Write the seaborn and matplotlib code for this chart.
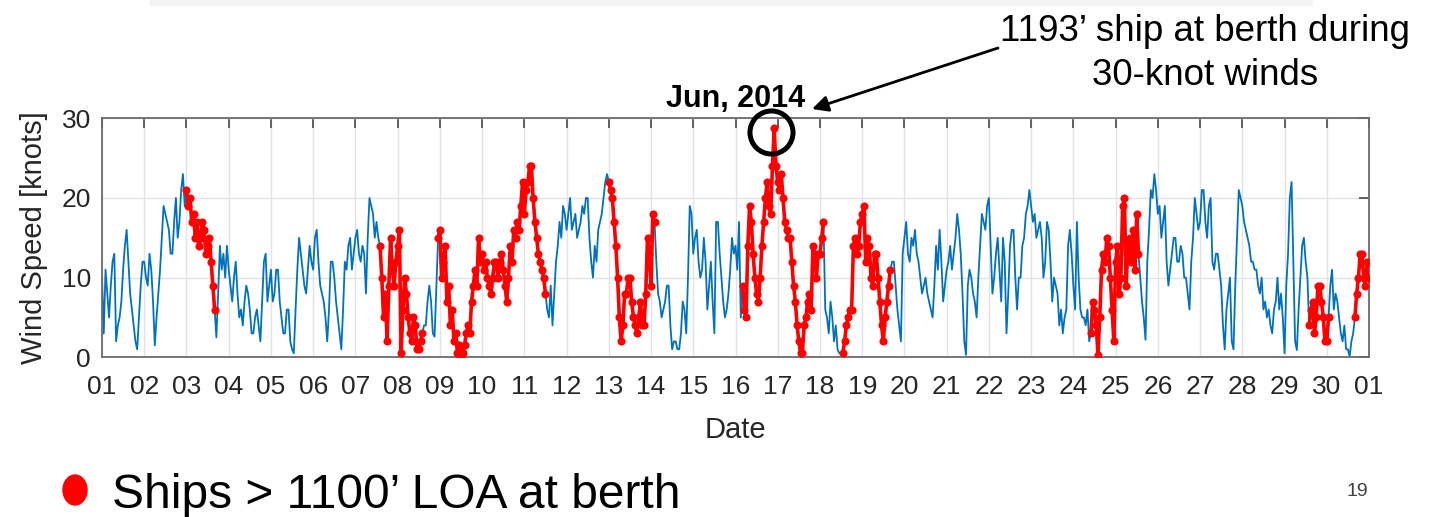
import numpy as np
import pandas as pd
import matplotlib
matplotlib.use("Agg")
import matplotlib.pyplot as plt
import seaborn as sns
from matplotlib.patches import Ellipse, Rectangle

# Hourly wind speed [knots], one list per day of June 2014
jun01 = [10, 3, 11, 8, 5, 9, 12, 13, 2, 4, 5, 7, 11, 14, 16, 12, 8, 6, 4, 2, 1, 5, 9, 12]
jun02 = [12, 10, 9, 13, 11, 7, 1.5, 5, 8, 11, 15, 19, 18, 17, 16, 13, 13, 17, 20, 15, 17, 21, 23, 19]
jun03 = [21, 19, 20, 17, 18, 15, 17, 14, 15, 17, 16, 13, 14, 15, 12, 9, 6, 2.5, 8, 14, 11, 13, 10, 14]
jun04 = [11, 9, 7, 10, 12, 8, 5, 6, 4, 7, 9, 8, 6, 3, 3, 5, 6, 4, 2, 7, 12, 13, 7, 9]
jun05 = [11, 7, 8, 11, 11, 7, 5, 3, 3, 6, 6, 2, 1, 0.5, 6, 11, 15, 13, 11, 9, 8, 11, 14, 12]
jun06 = [11, 15, 16, 12, 9, 8, 7, 5, 2, 6, 12, 12, 10, 7, 5, 3, 1, 6, 12, 11, 14, 15, 11, 13]
jun07 = [15, 16, 13, 12, 14, 13, 8, 15, 20, 19, 18, 15, 17, 15, 14, 10, 5, 8, 2, 9, 15, 11, 9, 12]
jun08 = [14, 16, 0.5, 6, 10, 8, 5, 3, 2, 5, 4, 1, 1, 2, 3, 4, 4, 7, 9, 7, 3, 2.6, 9, 15]
jun09 = [16, 10, 12, 14, 7, 9, 4, 6, 2, 3, 0.5, 1.5, 0, 0.5, 1.5, 3, 4, 3, 7, 9, 11, 9, 15, 12]
jun10 = [13, 11, 12, 10, 9, 8, 10, 12, 12, 10, 12, 13, 11, 9, 7, 10, 14, 12, 16, 15, 17, 16, 19, 22]
jun11 = [18, 21, 22, 24, 24, 20, 17, 15, 13, 12, 11, 10, 8, 6, 5, 9, 4, 8, 12, 14, 17, 15, 19, 18]
jun12 = [16, 18, 20, 16, 17, 18, 15, 16, 17, 19, 18, 20, 20, 15, 12, 10, 14, 12, 16, 17, 18, 20, 22, 23]
jun13 = [22, 21, 20, 17, 14, 10, 5, 2, 4, 8, 8, 10, 10, 7, 5, 4, 3, 5, 7, 4, 4, 8, 15, 13]
jun14 = [9, 18, 17, 12, 8, 7, 5, 6, 7, 9, 9, 4, 1, 2, 2, 1, 1, 3, 7, 6, 3, 10, 19, 18]
jun15 = [13, 15, 16, 12, 10, 11, 15, 12, 6, 9, 12, 7, 3, 17, 17, 13, 10, 7, 5, 6, 8, 11, 15, 13]
jun16 = [14, 11, 17, 5, 9, 6, 5, 14, 19, 17, 13, 10, 8, 7, 10, 14, 17, 20, 22, 19, 18, 24, 28.8, 24]
jun17 = [22, 21, 23, 20, 17, 16, 15, 15, 12, 9, 7, 4, 2, 0.5, 0.5, 4, 5, 7, 8, 6, 14, 13, 10, 13]
jun18 = [13, 15, 17, 6, 5, 3, 7, 5, 2, 4, 1, 0.5, 0.5, 0.5, 2, 4, 5, 6, 6, 14, 15, 13, 14, 17]
jun19 = [18, 19, 12, 15, 14, 10, 9, 13, 13, 10, 7, 4, 2, 5, 7, 9, 11, 12, 12, 9, 6, 4, 2, 13]
jun20 = [15, 17, 13, 12, 15, 14, 16, 13, 12, 10, 8, 9, 10, 8, 7, 6, 5, 9, 14, 11, 16, 12, 7, 9]
jun21 = [11, 12, 14, 11, 13, 15, 18, 16, 13, 8, 2, 0.3, 9, 11, 10, 8, 7, 5, 10, 14, 18, 17, 16, 19]
jun22 = [20, 14, 8, 10, 13, 15, 11, 7, 15, 12, 3, 8, 14, 16, 16, 10, 6, 10, 10, 14, 15, 18, 19, 21]
jun23 = [19, 17, 18, 15, 16, 17, 15, 10, 12, 17, 16, 12, 7, 10, 9, 8, 4, 6, 3, 5, 6, 14, 16, 13]
jun24 = [9, 6, 17, 10, 6, 5, 5, 4, 6, 2, 3, 7, 6, 4, 0.3, 5, 11, 13, 12, 15, 14, 10, 6, 2]
jun25 = [12, 14, 8, 10, 19, 20, 9, 14, 15, 12, 16, 11, 18, 13, 10, 7, 5, 2.2, 12, 16, 21, 20, 23, 21]
jun26 = [18, 19, 15, 17, 19, 12, 9, 11, 13, 15, 15, 12, 12, 14, 13, 10, 10, 8, 6, 12, 15, 20, 18, 16]
jun27 = [17, 21, 21, 17, 15, 19, 20, 12, 11, 13, 13, 11, 9, 4, 1, 6, 8, 10, 2, 1, 9, 15, 21, 20]
jun28 = [19, 17, 16, 15, 14, 12, 12, 11, 11, 9, 8, 10, 6, 7, 5, 6, 4, 3, 6, 7, 10, 6, 8, 5]
jun29 = [0.5, 9, 13, 20, 22, 12, 2, 0.9, 6, 10, 14, 15, 12, 10, 4, 6, 7, 3, 5, 9, 9, 7, 5, 2]
jun30 = [2, 5, 9, 11, 6, 8, 7, 5, 3, 2, 4, 1, 1, 0.1, 2, 3, 5, 8, 10, 13, 13, 10, 9, 12]
jul01 = [10]

# Periods (day of month) with a ship longer than 1100 ft at berth
berth_start = [2.97, 7.55, 8.95, 12.98, 16.15, 18.52, 24.40, 29.56, 30.63]
berth_end = [3.67, 8.62, 11.54, 14.10, 18.09, 19.70, 25.57, 30.06, 31.01]

day_ticks = list(range(1, 32))
day_labels = [f"{d:02d}" for d in range(1, 31)] + ["01"]

# The highlighted gust: 1193 ft ship at berth
gust_day, gust_speed = 16.85, 28.3

days = [jun01, jun02, jun03, jun04, jun05, jun06, jun07, jun08, jun09, jun10,
        jun11, jun12, jun13, jun14, jun15, jun16, jun17, jun18, jun19, jun20,
        jun21, jun22, jun23, jun24, jun25, jun26, jun27, jun28, jun29, jun30,
        jul01]
wind = np.concatenate([np.asarray(d, float) for d in days])
t = 1 + np.arange(len(wind)) / 24.0

df = pd.DataFrame({"day": t, "wind": wind})
df["period"] = -1
for i, (s, e) in enumerate(zip(berth_start, berth_end)):
    df.loc[(df.day >= s) & (df.day <= e), "period"] = i
berth = df[df.period >= 0]

sns.set_style("white")
plt.rcParams["font.family"] = ["Liberation Sans", "DejaVu Sans"]

W, H = 1436, 517
fig = plt.figure(figsize=(W / 100, H / 100), dpi=100)
ax = fig.add_axes([102 / W, 1 - 357.3 / H, (1369 - 102) / W, (357.3 - 118.3) / H])

BLUE = "#0072BD"
RED = "#FF0000"
sns.lineplot(data=df, x="day", y="wind", color=BLUE, lw=1.3, ax=ax,
             estimator=None, sort=False, zorder=2)
# At-berth samples: dotted chain per berth period
sns.lineplot(data=berth, x="day", y="wind", units="period", estimator=None,
             color=RED, lw=2.6, sort=False, ax=ax, zorder=3)
sns.scatterplot(data=berth, x="day", y="wind", color=RED, s=34,
                linewidth=0, ax=ax, zorder=4)

ax.set_xlim(1, 31)
ax.set_ylim(0, 30)
ax.set_xticks(day_ticks)
ax.set_xticklabels(day_labels)
ax.set_yticks([0, 10, 20, 30])

TXT = "#262626"
ax.grid(True, color="#e3e3e3", lw=1.0)
ax.set_axisbelow(True)
for sp in ax.spines.values():
    sp.set_color("#6b6b6b")
    sp.set_linewidth(1.3)
ax.tick_params(axis="both", direction="in", length=7, width=1.3, color="#555555",
               labelsize=19, labelcolor=TXT, top=True, right=True)
ax.tick_params(axis="x", pad=13)
ax.tick_params(axis="y", pad=8)

ax.set_xlabel("Date", fontsize=21, color=TXT, labelpad=12)
ax.set_ylabel("Wind Speed [knots]", fontsize=21, color=TXT, labelpad=10)
ax.set_title("Jun, 2014", fontsize=22, fontweight="bold", color="black", pad=8)

# Ring around the peak gust
ax.plot([gust_day], [gust_speed], marker="o", markersize=31, mfc="none",
        mec="black", mew=3.6, clip_on=False, zorder=5)

# Callout text and arrow
fig.text(1205 / W, 1 - 41 / H, "1193\u2019 ship at berth during", ha="center",
         va="baseline", fontsize=26.5, color="black")
fig.text(1205 / W, 1 - 85 / H, "30-knot winds", ha="center", va="baseline",
         fontsize=26.5, color="black")
ax.annotate("", xy=(812 / W, 1 - 109 / H), xycoords="figure fraction",
            xytext=(998 / W, 1 - 48 / H), textcoords="figure fraction",
            arrowprops=dict(arrowstyle="-|>", color="black", lw=2,
                            mutation_scale=24, shrinkA=0, shrinkB=0),
            annotation_clip=False)

# Legend line at the bottom
fig.patches.append(Ellipse((75 / W, 1 - 490 / H), 24 / W, 30 / H,
                           transform=fig.transFigure, color=RED))
fig.text(112 / W, 1 - 508 / H, "Ships > 1100\u2019 LOA at berth", ha="left",
         va="baseline", fontsize=34.5, color="black")
fig.text(1357 / W, 1 - 496 / H, "19", ha="center", va="baseline", fontsize=14,
         color="#404040")

# Faint band along the top edge
fig.patches.append(Rectangle((150 / W, 1 - 6 / H), (1313 - 150) / W, 6 / H,
                             transform=fig.transFigure, color="#f4f4f4", lw=0))

fig.savefig("out.png", dpi=100)
